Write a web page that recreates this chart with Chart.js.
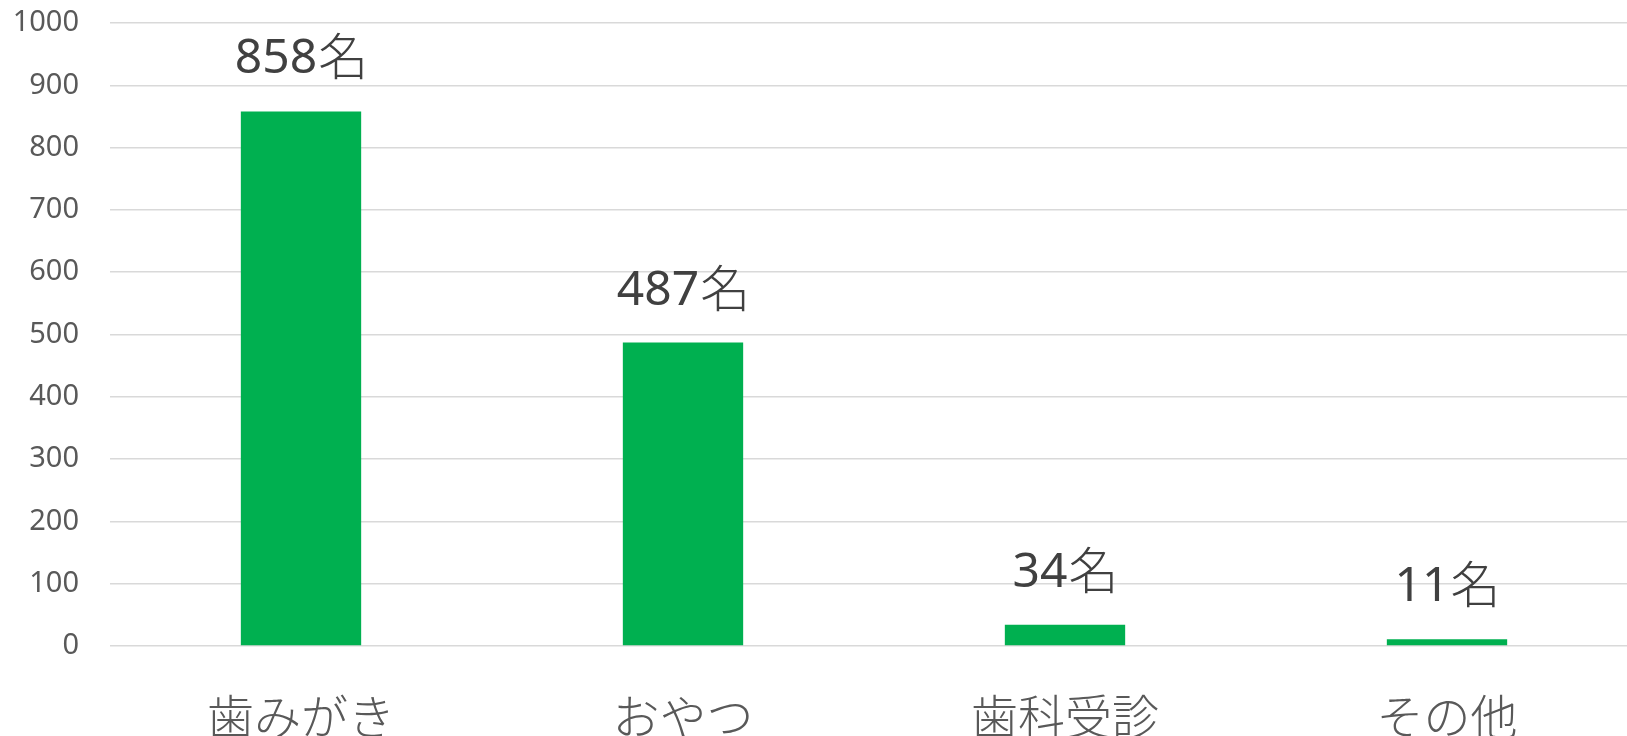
<!DOCTYPE html>
<html>
<head>
<meta charset="utf-8">
<script src="https://cdn.jsdelivr.net/npm/chart.js@4"></script>
<style>
  html, body { margin: 0; padding: 0; background: #fff; overflow: hidden; }
  #wrap { width: 1638px; height: 736px; }
</style>
</head>
<body>
<div id="wrap"><canvas id="chart"></canvas></div>
<script>
// ===== DATA =====
const categories = ['歯みがき', 'おやつ', '歯科受診', 'その他'];
const counts = [858, 487, 34, 11];
const unit = '名';
const yTicks = [0, 100, 200, 300, 400, 500, 600, 700, 800, 900, 1000];

const GREEN = '#00B050';
const CJK = '"Noto Sans CJK JP", "Noto Sans", sans-serif';
const LATIN = '"Noto Sans", "Open Sans", sans-serif';

// ===== LABELS ABOVE BARS =====
const valueLabels = {
  id: 'valueLabels',
  afterDatasetsDraw(chart) {
    const ctx = chart.ctx;
    const meta = chart.getDatasetMeta(0);
    ctx.save();
    ctx.fillStyle = '#404040';
    ctx.textBaseline = 'alphabetic';
    ctx.textAlign = 'left';
    meta.data.forEach((bar, i) => {
      const num = String(counts[i]);
      ctx.font = '48px ' + LATIN;
      const wNum = ctx.measureText(num).width;
      ctx.font = '300 50px ' + CJK;
      const wUnit = ctx.measureText(unit).width;
      const x0 = bar.x - (wNum + wUnit) / 2;
      const y = bar.y - 38;
      ctx.font = '48px ' + LATIN;
      ctx.fillText(num, x0, y);
      ctx.font = '300 50px ' + CJK;
      ctx.fillText(unit, x0 + wNum + 1, y + 2);
    });
    ctx.restore();
  }
};

// keep the plot area exactly where the layout padding puts it
function noPad(scale) {
  scale.paddingTop = 0;
  scale.paddingBottom = 0;
}

new Chart(document.getElementById('chart'), {
  type: 'bar',
  data: {
    labels: categories,
    datasets: [{
      data: counts,
      backgroundColor: GREEN,
      borderWidth: 0,
      categoryPercentage: 1,
      barPercentage: 0.315
    }]
  },
  options: {
    responsive: true,
    maintainAspectRatio: false,
    animation: false,
    layout: { padding: { top: 23, left: 13, right: 0, bottom: 0 } },
    plugins: { legend: { display: false }, tooltip: { enabled: false } },
    scales: {
      x: {
        grid: { display: false, drawTicks: false },
        border: { display: false },
        ticks: {
          color: '#595959',
          padding: 42,
          font: { family: CJK, size: 47, weight: 300 }
        },
        afterFit(scale) { scale.height = 90; noPad(scale); }
      },
      y: {
        min: 0,
        max: 1000,
        afterBuildTicks(scale) { scale.ticks = yTicks.map(v => ({ value: v })); },
        grid: { color: '#d9d9d9', lineWidth: 1.5, drawTicks: false },
        border: { display: false },
        ticks: {
          color: '#595959',
          padding: 31,
          callback: v => String(v),
          font: { family: LATIN, size: 29 }
        },
        afterFit(scale) { scale.width = 97; noPad(scale); }
      }
    }
  },
  plugins: [valueLabels]
});
</script>
</body>
</html>
